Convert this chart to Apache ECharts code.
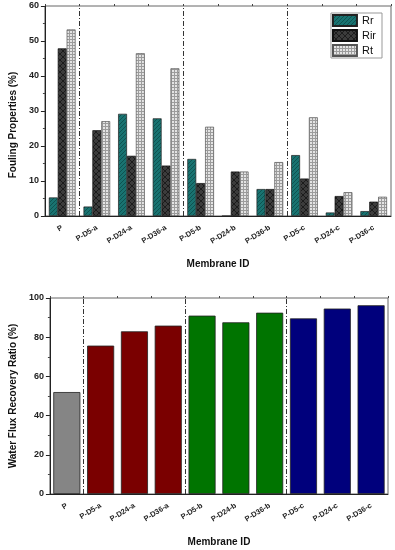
<!DOCTYPE html>
<html><head><meta charset="utf-8">
<script src="https://cdn.jsdelivr.net/npm/echarts@6/dist/echarts.min.js"></script>
<style>html,body{margin:0;padding:0;background:#fff}#c{width:395px;height:550px}</style>
</head><body><div id="c"></div>
<script>
var categories = ['P','P-D5-a','P-D24-a','P-D36-a','P-D5-b','P-D24-b','P-D36-b','P-D5-c','P-D24-c','P-D36-c'];
var rr  = [5.3, 2.7, 29.2, 27.9, 16.3, 0, 7.7, 17.4, 1.0, 1.4];
var rir = [47.9, 24.5, 17.2, 14.4, 9.4, 12.7, 7.7, 10.7, 5.7, 4.1];
var rt  = [53.3, 27.1, 46.5, 42.2, 25.5, 12.7, 15.4, 28.2, 6.8, 5.5];
var fluxRecovery = [52.0, 75.7, 83.0, 85.9, 91.0, 87.6, 92.5, 89.6, 94.6, 96.3];
var separators = [1, 4, 7];

function makePattern(w, h, draw) {
  var c = document.createElement('canvas');
  c.width = w; c.height = h;
  var g = c.getContext('2d');
  draw(g, w, h);
  return {image: c, repeat: 'repeat'};
}
var patRr = makePattern(4, 4, function(g, w, h){
  g.fillStyle = '#197371'; g.fillRect(0,0,w,h);
  g.strokeStyle = '#0e5351'; g.lineWidth = 1;
  g.beginPath(); g.moveTo(0,h); g.lineTo(w,0); g.moveTo(-1,1); g.lineTo(1,-1); g.moveTo(w-1,h+1); g.lineTo(w+1,h-1); g.stroke();
});
var patRir = makePattern(6, 6, function(g, w, h){
  g.fillStyle = '#3c3c3c'; g.fillRect(0,0,w,h);
  g.strokeStyle = '#1c1c1c'; g.lineWidth = 1;
  g.beginPath(); g.moveTo(0,0); g.lineTo(w,h); g.moveTo(0,h); g.lineTo(w,0); g.stroke();
});
var patRt = makePattern(3, 3, function(g, w, h){
  g.fillStyle = '#e4e4e4'; g.fillRect(0,0,w,h);
  g.fillStyle = '#9c9c9c'; g.fillRect(0,0,w,1); g.fillRect(0,0,1,h);
});

var groupColors = ['#858585','#7a0000','#007400','#00007c'];
function groupOf(i){ return i === 0 ? 0 : Math.floor((i - 1) / 3) + 1; }

var font = 'Liberation Sans, Arial, sans-serif';
var tickLabelX = {rotate: 32, fontSize: 7.5, fontWeight: 'bold', color: '#222', fontFamily: font, margin: 11, interval: 0};
var tickLabelY = {fontSize: 9, fontWeight: 'bold', color: '#222', fontFamily: font, margin: 6};
var nameStyle = {fontSize: 10, fontWeight: 'bold', color: '#111', fontFamily: font};

var sepLine = {
  symbol: 'none', silent: true, label: {show: false},
  lineStyle: {color: '#333', width: 1, type: [5, 2, 1, 2]},
  data: separators.map(function(v){ return {xAxis: v}; })
};

var chart = echarts.init(document.getElementById('c'), null, {renderer: 'canvas'});
chart.setOption({
  animation: false,
  grid: [
    {left: 40, right: 4, top: 6, bottom: 334, show: true, borderColor: '#666', borderWidth: 1},
    {left: 40, right: 7, top: 298, bottom: 56, show: true, borderColor: '#666', borderWidth: 1}
  ],
  legend: {
    data: ['Rr','Rir','Rt'], orient: 'vertical', right: 13, top: 13, icon: 'rect',
    itemWidth: 24, itemHeight: 11, itemGap: 2, padding: [1, 6, 1, 1],
    borderColor: '#999', borderWidth: 1,
    textStyle: {fontSize: 11, color: '#111', fontFamily: font}
  },
  xAxis: [
    {type: 'category', gridIndex: 0, data: categories,
     axisLine: {lineStyle: {color: '#222'}}, axisTick: {alignWithLabel: true, length: 4, lineStyle: {color: '#222'}},
     axisLabel: tickLabelX,
     name: 'Membrane ID', nameLocation: 'middle', nameGap: 43, nameTextStyle: nameStyle},
    {type: 'value', gridIndex: 0, min: 0, max: 10, interval: 1, show: true,
     axisLine: {show: false}, axisLabel: {show: false}, splitLine: {show: false},
     axisTick: {show: true, length: 2, lineStyle: {color: '#444'}}},
    {type: 'category', gridIndex: 1, data: categories,
     axisLine: {lineStyle: {color: '#222'}}, axisTick: {alignWithLabel: true, length: 4, lineStyle: {color: '#222'}},
     axisLabel: tickLabelX,
     name: 'Membrane ID', nameLocation: 'middle', nameGap: 43, nameTextStyle: nameStyle},
    {type: 'value', gridIndex: 1, min: 0, max: 10, interval: 1, show: true,
     axisLine: {show: false}, axisLabel: {show: false}, splitLine: {show: false},
     axisTick: {show: true, length: 2, lineStyle: {color: '#444'}}}
  ],
  yAxis: [
    {type: 'value', gridIndex: 0, min: 0, max: 60, interval: 10,
     axisLine: {show: true, lineStyle: {color: '#222'}}, axisTick: {show: true, length: 4, lineStyle: {color: '#222'}},
     minorTick: {show: true, splitNumber: 2, length: 2, lineStyle: {color: '#444'}},
     splitLine: {show: false}, axisLabel: tickLabelY,
     name: 'Fouling Properties (%)', nameLocation: 'middle', nameGap: 24, nameTextStyle: Object.assign({}, nameStyle, {padding: [0, 28, 0, 0]})},
    {type: 'value', gridIndex: 1, min: 0, max: 100, interval: 20,
     axisLine: {show: true, lineStyle: {color: '#222'}}, axisTick: {show: true, length: 4, lineStyle: {color: '#222'}},
     minorTick: {show: true, splitNumber: 2, length: 2, lineStyle: {color: '#444'}},
     splitLine: {show: false}, axisLabel: tickLabelY,
     name: 'Water Flux Recovery Ratio (%)', nameLocation: 'middle', nameGap: 24, nameTextStyle: nameStyle}
  ],
  series: [
    {name: 'Rr', type: 'bar', xAxisIndex: 0, yAxisIndex: 0, data: rr, barGap: '0%', barCategoryGap: '23%',
     itemStyle: {color: patRr, borderColor: '#222', borderWidth: 0.7}},
    {name: 'Rir', type: 'bar', xAxisIndex: 0, yAxisIndex: 0, data: rir, barGap: '0%', barCategoryGap: '23%',
     itemStyle: {color: patRir, borderColor: '#111', borderWidth: 0.7}},
    {name: 'Rt', type: 'bar', xAxisIndex: 0, yAxisIndex: 0, data: rt, barGap: '0%', barCategoryGap: '23%',
     itemStyle: {color: patRt, borderColor: '#555', borderWidth: 0.7}},
    {name: 'sepTop', type: 'scatter', xAxisIndex: 1, yAxisIndex: 0, data: [[0, 0]], symbolSize: 0, silent: true,
     markLine: sepLine},
    {name: 'Flux', type: 'bar', xAxisIndex: 2, yAxisIndex: 1, barCategoryGap: '20%',
     data: fluxRecovery.map(function(v, i){ return {value: v, itemStyle: {color: groupColors[groupOf(i)]}}; }),
     itemStyle: {borderColor: '#222', borderWidth: 0.8}},
    {name: 'sepBottom', type: 'scatter', xAxisIndex: 3, yAxisIndex: 1, data: [[0, 0]], symbolSize: 0, silent: true,
     markLine: sepLine}
  ]
});
</script>
</body></html>
